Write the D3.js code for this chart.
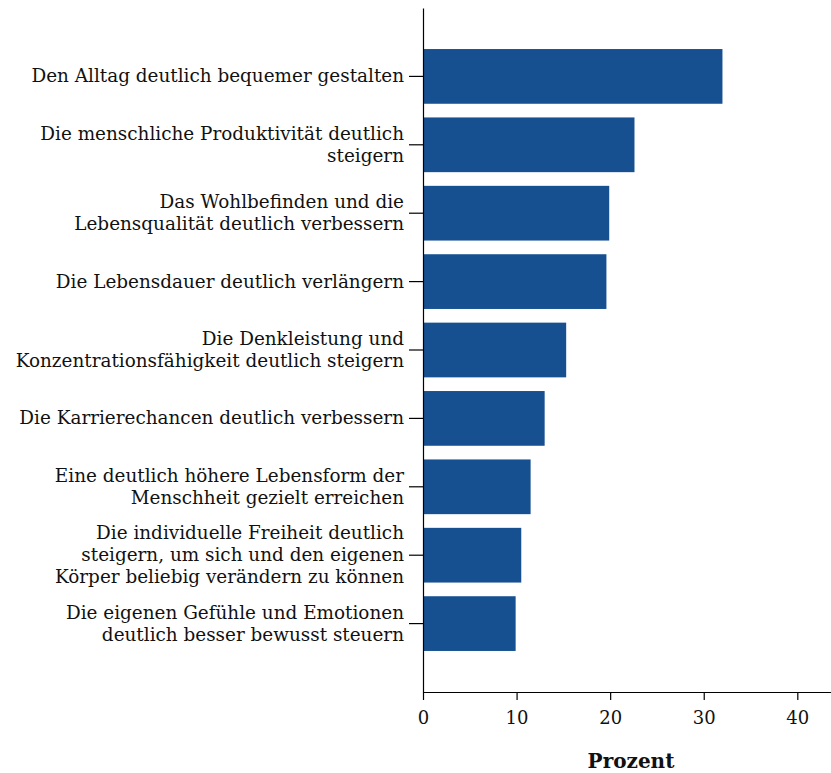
<!DOCTYPE html>
<html><head><meta charset="utf-8">
<script src="https://cdn.jsdelivr.net/npm/d3@7"></script>
<style>body{margin:0;background:#fff}svg{display:block}</style>
</head><body>
<svg id="c" width="831" height="773"></svg>
<script>
const categories = [
  "Den Alltag deutlich bequemer gestalten",
  "Die menschliche Produktivität deutlich\nsteigern",
  "Das Wohlbefinden und die\nLebensqualität deutlich verbessern",
  "Die Lebensdauer deutlich verlängern",
  "Die Denkleistung und\nKonzentrationsfähigkeit deutlich steigern",
  "Die Karrierechancen deutlich verbessern",
  "Eine deutlich höhere Lebensform der\nMenschheit gezielt erreichen",
  "Die individuelle Freiheit deutlich\nsteigern, um sich und den eigenen\nKörper beliebig verändern zu können",
  "Die eigenen Gefühle und Emotionen\ndeutlich besser bewusst steuern"
];
const values = [32.0, 22.6, 19.9, 19.6, 15.3, 13.0, 11.5, 10.5, 9.9];
const xTicks = [0, 10, 20, 30, 40];
const xTitle = "Prozent";

(function () {
const FONT = "'DejaVu Serif', serif";
const svg = d3.select("#c");
const mLeft = 423, mRight = 831, mTop = 8, mBottom = 692;

const x = d3.scaleLinear().domain([0, 43.6]).range([mLeft, mRight]);
const y = d3.scaleBand().domain(categories).range([mTop, mBottom]).paddingInner(0.2).paddingOuter(0.6);

svg.append("g").selectAll("rect").data(categories).join("rect")
  .attr("x", x(0)).attr("y", d => y(d))
  .attr("width", (d, i) => x(values[i]) - x(0))
  .attr("height", y.bandwidth())
  .attr("fill", "#165091");

const yAxis = svg.append("g").attr("transform", `translate(${mLeft},0)`)
  .call(d3.axisLeft(y).tickSize(14).tickSizeOuter(0).tickFormat(""));
yAxis.selectAll("line,path").attr("stroke", "#000").attr("stroke-width", 1.2);
yAxis.selectAll(".tick").each(function(d) {
  const lines = d.split("\n");
  const t = d3.select(this).append("text")
    .attr("x", -19).attr("text-anchor", "end")
    .attr("font-family", FONT).attr("font-size", 18.4).attr("fill", "#111");
  const lh = 22;
  lines.forEach((ln, i) => {
    t.append("tspan").attr("x", -19)
      .attr("y", (i - (lines.length - 1) / 2) * lh)
      .attr("dy", "0.33em").text(ln);
  });
});

const xAxis = svg.append("g").attr("transform", `translate(0,${mBottom})`)
  .call(d3.axisBottom(x).tickValues(xTicks).tickSize(8).tickSizeOuter(0));
xAxis.selectAll("line,path").attr("stroke", "#000").attr("stroke-width", 1.2);
xAxis.selectAll("text").attr("font-family", FONT).attr("font-size", 18)
  .attr("fill", "#111").attr("dy", "1.15em");

svg.append("text").attr("x", 631).attr("y", 768).attr("text-anchor", "middle")
  .attr("font-family", FONT).attr("font-size", 20).attr("font-weight", "bold")
  .attr("fill", "#111").text(xTitle);
})();
</script>
</body></html>
